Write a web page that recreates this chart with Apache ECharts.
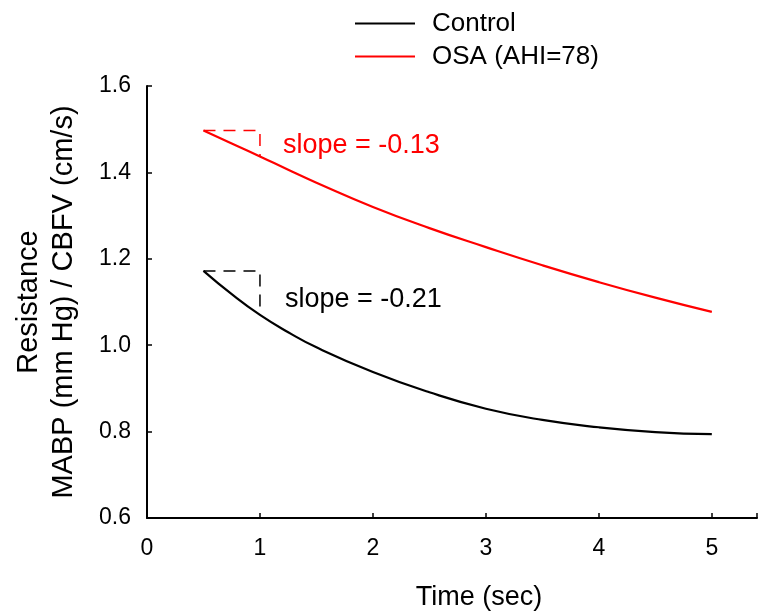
<!DOCTYPE html>
<html>
<head>
<meta charset="utf-8">
<script src="https://cdn.jsdelivr.net/npm/echarts@6/dist/echarts.min.js"></script>
<style>
html,body{margin:0;padding:0;background:#fff;}
#main{width:759px;height:612px;}
</style>
</head>
<body>
<div id="main"></div>
<script>
// 时间点 (sec)
var timeSec = [0.5, 0.75, 1, 1.25, 1.5, 2, 2.5, 3, 3.5, 4, 4.5, 5];
var controlVals = [1.172, 1.118, 1.070, 1.030, 0.995, 0.938, 0.891, 0.853, 0.827, 0.810, 0.799, 0.794];
var osaVals = [1.497, 1.467, 1.437, 1.406, 1.376, 1.320, 1.271, 1.227, 1.185, 1.146, 1.110, 1.077];
// 斜率三角 (虚线)
var controlSlopeX = [0.5, 1, 1];
var controlSlopeY = [1.172, 1.172, 1.070];
var osaSlopeX = [0.5, 1, 1];
var osaSlopeY = [1.497, 1.497, 1.437];
var xTicks = [0, 1, 2, 3, 4, 5];
var yTicks = [0.6, 0.8, 1.0, 1.2, 1.4, 1.6];

function pairs(xs, ys) {
	var out = [];
	for (var i = 0; i < xs.length; i++) {
		out.push([xs[i], ys[i]]);
	}
	return out;
}

var font = 'Liberation Sans, Arial, sans-serif';
var lineIcon = 'path://M0,0 L60,0 L60,2.2 L0,2.2 Z';
var myChart = echarts.init(document.getElementById('main'));
var option = {
	animation: false,
	backgroundColor: '#fff',
	textStyle: {fontFamily: font},
	grid: {left: 147, right: 2, top: 86, bottom: 94, containLabel: false, outerBoundsMode: 'none'},
	legend: {
		orient: 'vertical',
		left: 350,
		top: 4,
		itemWidth: 60,
		itemHeight: 2.2,
		itemGap: 4,
		data: [
			{name: 'Control', icon: lineIcon},
			{name: 'OSA (AHI=78)', icon: lineIcon}
		],
		textStyle: {fontSize: 26, color: '#000', fontFamily: font, lineHeight: 29, padding: [0, 0, 0, 12]}
	},
	xAxis: {
		type: 'value',
		min: 0,
		max: 5.4,
		interval: 1,
		name: 'Time (sec)',
		nameLocation: 'middle',
		nameGap: 66,
		nameTextStyle: {fontSize: 27, color: '#000', padding: [0, 0, 0, 54]},
		splitLine: {show: false},
		axisLine: {lineStyle: {color: '#000', width: 2}},
		axisTick: {inside: true, length: 5, lineStyle: {color: '#000', width: 1.5}},
		axisLabel: {
			fontSize: 23, color: '#000', margin: 19,
			formatter: function (v) { return xTicks.indexOf(v) >= 0 ? String(v) : ''; }
		}
	},
	yAxis: {
		type: 'value',
		min: 0.6,
		max: 1.6,
		interval: 0.2,
		name: 'Resistance\nMABP (mm Hg) / CBFV (cm/s)',
		nameLocation: 'middle',
		nameGap: 66,
		nameTextStyle: {fontSize: 29, color: '#000', lineHeight: 35},
		splitLine: {show: false},
		axisLine: {lineStyle: {color: '#000', width: 2}},
		axisTick: {inside: true, length: 5, lineStyle: {color: '#000', width: 1.5}},
		axisLabel: {
			fontSize: 23, color: '#000', margin: 16,
			formatter: function (v) {
				var r = Math.round(v * 10) / 10;
				return yTicks.indexOf(r) >= 0 ? r.toFixed(1) : '';
			}
		}
	},
	series: [
		{
			name: 'Control',
			type: 'line',
			smooth: true,
			symbol: 'none',
			data: pairs(timeSec, controlVals),
			itemStyle: {color: '#000'},
			lineStyle: {color: '#000', width: 2.2}
		},
		{
			name: 'OSA (AHI=78)',
			type: 'line',
			smooth: true,
			symbol: 'none',
			data: pairs(timeSec, osaVals),
			itemStyle: {color: '#ff0000'},
			lineStyle: {color: '#ff0000', width: 2.2}
		},
		{
			name: 'controlSlope',
			type: 'line',
			symbol: 'none',
			data: pairs(controlSlopeX, controlSlopeY),
			lineStyle: {color: '#000', width: 1.5, type: [12, 8]}
		},
		{
			name: 'osaSlope',
			type: 'line',
			symbol: 'none',
			data: pairs(osaSlopeX, osaSlopeY),
			lineStyle: {color: '#ff0000', width: 1.5, type: [12, 8]}
		}
	],
	graphic: [
		{type: 'text', left: 283, top: 132, style: {text: 'slope = -0.13', fill: '#ff0000', font: '27px ' + font}},
		{type: 'text', left: 285, top: 286, style: {text: 'slope = -0.21', fill: '#000', font: '27px ' + font}}
	]
};
myChart.setOption(option);
</script>
</body>
</html>
